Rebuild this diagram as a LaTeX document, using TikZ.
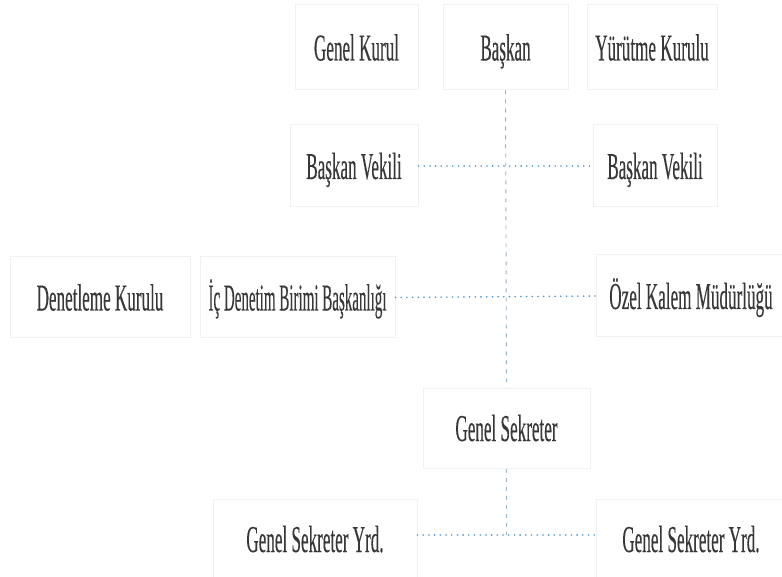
\documentclass[tikz,border=0pt]{standalone}
\usepackage{fontspec}
\setmainfont[FakeStretch=0.45,FakeBold=0.2]{Liberation Serif}
\newfontfamily\narrowfont[FakeStretch=0.395,FakeBold=0.2]{Liberation Serif}
\definecolor{txt}{HTML}{383838}
\definecolor{boxline}{HTML}{F1F1F1}
\definecolor{vline}{RGB}{150,178,200}
\definecolor{hline}{RGB}{80,150,200}
\begin{document}
\begin{tikzpicture}[x=1pt,y=-1pt,
  unit/.style={draw=boxline,line width=1pt,fill=white,text=txt,
    font=\fontsize{38}{40}\selectfont,text height=26pt,text depth=0pt,
    inner sep=0pt,minimum height=82pt},
  vconn/.style={draw=vline,line width=0.9pt,dash pattern=on 4pt off 5pt},
  hconn/.style={draw=hline,line width=1.8pt,line cap=round,dash pattern=on 0pt off 5.7pt}]
\useasboundingbox (0,0) rectangle (782,577);
\fill[white] (0,0) rectangle (782,577);
% top row
\node[unit,minimum width=123pt,minimum height=85pt] (gk) at (356.5,47.5) {Genel Kurul};
\node[unit,minimum width=125pt,minimum height=85pt] (ba) at (505.5,47.5) {Başkan};
\node[unit,minimum width=130pt,minimum height=85pt] (yk) at (652,47.5) {Yürütme Kurulu};
% vice presidents
\node[unit,minimum width=128pt] (bvl) at (354,166) {Başkan Vekili};
\node[unit,minimum width=124pt] (bvr) at (655,166) {Başkan Vekili};
% third row
\node[unit,minimum width=180pt,minimum height=81pt] (dk) at (100,297.5) {Denetleme Kurulu};
\node[unit,minimum width=195pt,minimum height=81pt,font=\fontsize{38}{40}\narrowfont] (id) at (297.5,297.5) {İç Denetim Birimi Başkanlığı};
\node[unit,minimum width=189pt] (ok) at (691,296) {Özel Kalem Müdürlüğü};
% general secretary
\node[unit,minimum width=167pt,minimum height=80pt] (gs) at (506.5,428) {Genel Sekreter};
\node[unit,minimum width=204pt,minimum height=79pt] (gsyl) at (315,539) {Genel Sekreter Yrd.};
\node[unit,minimum width=189pt,minimum height=79pt] (gsyr) at (691,539) {Genel Sekreter Yrd.};
\coordinate (j) at (506.5,535);
% connectors
\draw[vconn] (ba.south) -- (gs.north);
\draw[vconn] (gs.south) -- (j);
\draw[hconn] (bvl.east) -- (bvr.west);
\draw[hconn] (id.east) -- (ok.west);
\draw[hconn] (gsyl.east |- j) -- (gsyr.west |- j);
\end{tikzpicture}
\end{document}
